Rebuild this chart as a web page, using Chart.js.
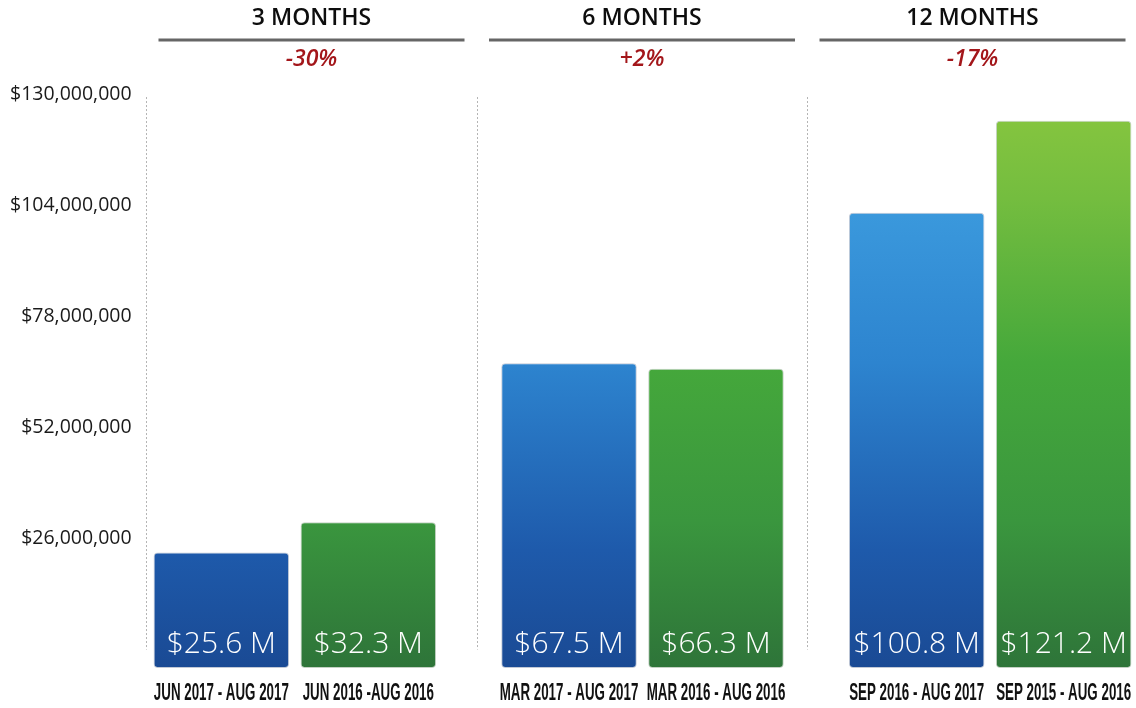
<!DOCTYPE html>
<html>
<head>
<meta charset="utf-8">
<script src="https://cdn.jsdelivr.net/npm/chart.js@4.4.1/dist/chart.umd.min.js"></script>
<style>
  html, body { margin: 0; padding: 0; background: #fff; overflow: hidden; }
  #wrap { width: 1164px; height: 708px; }
</style>
</head>
<body>
<div id="wrap"><canvas id="chart" width="1164" height="708"></canvas></div>
<script>
// data
const periods = ['3 MONTHS', '6 MONTHS', '12 MONTHS'];
const changes = ['-30%', '+2%', '-17%'];
const currentValues = [25.6e6, 67.5e6, 100.8e6];
const priorValues = [32.3e6, 66.3e6, 121.2e6];
const currentRanges = ['JUN 2017 - AUG 2017', 'MAR 2017 - AUG 2017', 'SEP 2016 - AUG 2017'];
const priorRanges = ['JUN 2016 -AUG 2016', 'MAR 2016 - AUG 2016', 'SEP 2015 - AUG 2016'];
const yTicks = [26e6, 52e6, 78e6, 104e6, 130e6];

const blueStops = [[0, '#52aeea'], [0.23, '#3a98dc'], [0.48, '#2d84cf'], [0.8, '#1e5aab'], [1, '#1a4a94']];
const greenStops = [[0, '#8cc83f'], [0.2, '#74bd3f'], [0.48, '#45a83b'], [0.75, '#3a963e'], [1, '#2e7439']];

const gradCache = {};
function barFill(stops, key) {
  return function (ctx) {
    const area = ctx.chart.chartArea;
    if (!area) return stops[2][1];
    const id = key + area.top + '_' + area.bottom;
    if (!gradCache[id]) {
      const g = ctx.chart.ctx.createLinearGradient(0, area.top, 0, area.bottom);
      stops.forEach(s => g.addColorStop(s[0], s[1]));
      gradCache[id] = g;
    }
    return gradCache[id];
  };
}

const money = v => '$' + Math.round(v).toLocaleString('en-US');

// headers, separators and bar texts
const decorations = {
  id: 'decorations',
  beforeDatasetsDraw(chart) {
    const ctx = chart.ctx;
    const xh = chart.scales.xh, yl = chart.scales.yl;
    ctx.save();
    ctx.strokeStyle = '#b4b4b4';
    ctx.lineWidth = 1;
    ctx.setLineDash([2, 2]);
    [-0.5, 0.5, 1.5].forEach(v => {
      const x = Math.round(xh.getPixelForValue(v)) + 0.5;
      ctx.beginPath();
      ctx.moveTo(x, yl.getPixelForValue(130e6) + 3);
      ctx.lineTo(x, yl.getPixelForValue(0));
      ctx.stroke();
    });
    ctx.restore();
  },
  afterDatasetsDraw(chart) {
    const ctx = chart.ctx;
    const xh = chart.scales.xh;
    ctx.save();
    ctx.textAlign = 'center';
    ctx.textBaseline = 'middle';
    periods.forEach((p, i) => {
      const cx = xh.getPixelForValue(i);
      ctx.fillStyle = '#0d0d0d';
      ctx.font = '600 23px "Open Sans"';
      ctx.fillText(p, cx, 18);
      ctx.fillStyle = '#666';
      ctx.fillRect(cx - 153, 38.5, 306, 3);
      ctx.fillStyle = '#a3161a';
      ctx.font = 'italic 600 23px "Open Sans"';
      ctx.fillText(changes[i], cx, 59);
    });

    const rangeSets = [currentRanges, priorRanges];
    chart.data.datasets.forEach((ds, di) => {
      chart.getDatasetMeta(di).data.forEach((bar, i) => {
        ctx.fillStyle = '#fff';
        ctx.font = '300 30px "Open Sans"';
        ctx.fillText('$' + (ds.data[i] / 1e6).toFixed(1) + ' M', bar.x, bar.base - 24);
        ctx.save();
        ctx.translate(bar.x, bar.base + 26);
        ctx.scale(0.58, 1);
        ctx.fillStyle = '#111';
        ctx.font = 'bold 23px "Liberation Sans", sans-serif';
        ctx.fillText(rangeSets[di][i], 0, 0);
        ctx.restore();
      });
    });
    ctx.restore();
  }
};

new Chart(document.getElementById('chart'), {
  type: 'bar',
  data: {
    labels: periods,
    datasets: [
      {
        label: 'Current period',
        data: currentValues,
        backgroundColor: barFill(blueStops, 'b'),
        borderColor: 'rgba(10,40,90,0.25)',
        borderWidth: 1,
        borderRadius: 4,
        borderSkipped: false,
        yAxisID: 'y'
      },
      {
        label: 'Prior period',
        data: priorValues,
        backgroundColor: barFill(greenStops, 'g'),
        borderColor: 'rgba(20,70,20,0.25)',
        borderWidth: 1,
        borderRadius: 4,
        borderSkipped: false,
        yAxisID: 'y'
      }
    ]
  },
  options: {
    responsive: false,
    animation: false,
    categoryPercentage: 0.8455,
    barPercentage: 0.922,
    layout: { padding: { top: 81, bottom: 40, left: 0, right: 0 } },
    plugins: {
      legend: { display: false },
      tooltip: { enabled: false }
    },
    scales: {
      x: { display: false, offset: true },
      xh: { type: 'linear', axis: 'x', position: 'top', display: false, offset: false, min: -0.5764, max: 2.5794 },
      y: { display: false, min: 0, max: 130e6 },
      yl: {
        axis: 'y',
        position: 'left',
        min: -4.35e6,
        max: 133.05e6,
        grid: { display: false },
        border: { display: false },
        afterBuildTicks: axis => { axis.ticks = yTicks.map(v => ({ value: v })); },
        afterFit: axis => { axis.width = 121; },
        ticks: {
          mirror: true,
          crossAlign: 'far',
          padding: -111,
          color: '#1a1a1a',
          font: { family: '"Open Sans"', size: 19.5 },
          callback: v => money(v)
        }
      }
    }
  },
  plugins: [decorations]
});
</script>
</body>
</html>
